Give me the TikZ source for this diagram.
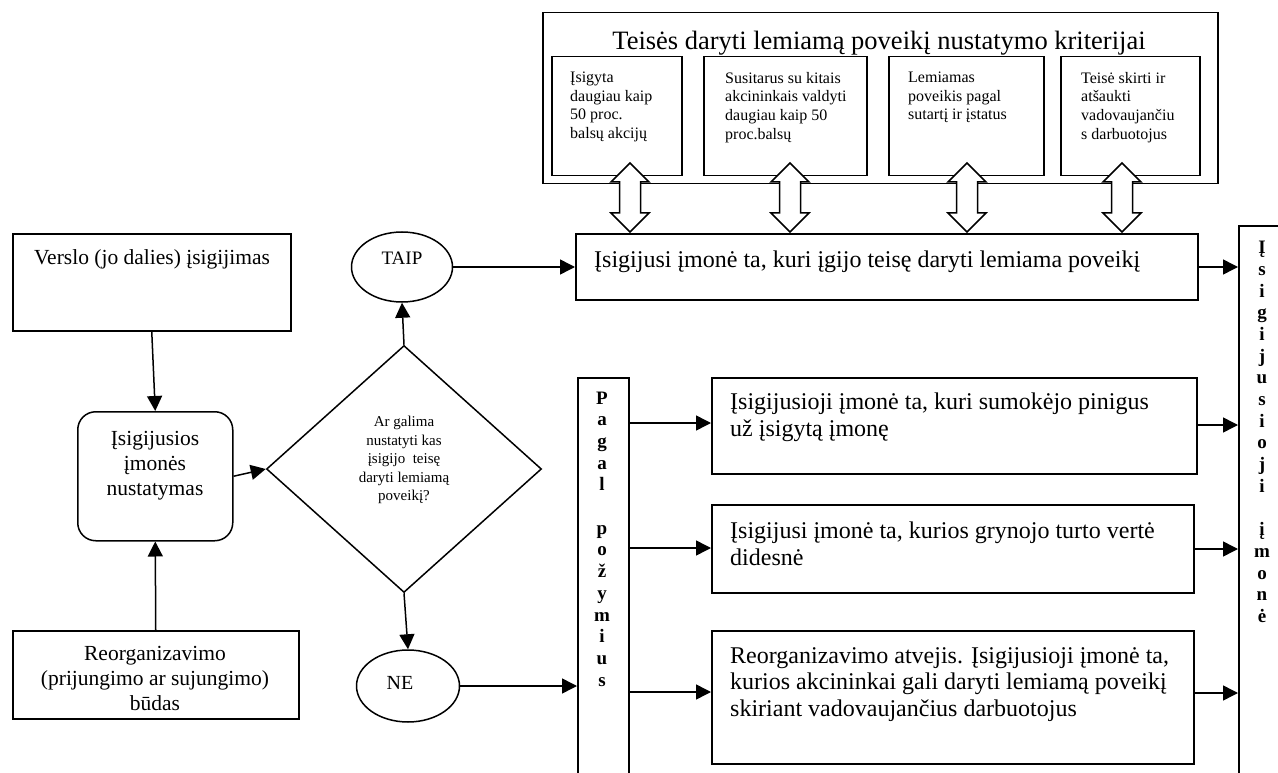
\documentclass[tikz,border=0pt]{standalone}
\usepackage{fontspec}
\setmainfont{Liberation Serif}
\usetikzlibrary{arrows.meta,shapes.geometric}
\newcommand\dblarr[1]{%
  \draw[line width=1.5pt,fill=white,line join=miter] (#1,163) -- ({#1+19},182) -- ({#1+10.5},182) -- ({#1+10.5},213) -- ({#1+19},213) -- (#1,232)
    -- ({#1-19},213) -- ({#1-10.5},213) -- ({#1-10.5},182) -- ({#1-19},182) -- cycle;}
\begin{document}
\begin{tikzpicture}[x=1pt,y=-1pt,
  box/.style={draw,line width=1.5pt,inner sep=0pt,anchor=north west},
  arr/.style={line width=1.5pt,-{Triangle[length=15pt,width=15pt]}},
  big/.style={font=\fontsize{24}{26.5}\selectfont,inner sep=0pt},
  left/.style={font=\fontsize{21.5}{25}\selectfont,inner sep=0pt},
  small/.style={font=\fontsize{16}{18.6}\selectfont,inner sep=0pt,align=left,anchor=north west},
  vert/.style={font=\bfseries\fontsize{19}{21.7}\selectfont,align=center,inner sep=0pt},
]
\useasboundingbox (0,0) rectangle (1278,773);
\clip (0,0) rectangle (1278,773);

% left column
\node[box,minimum width=278,minimum height=97] (verslo) at (12,233) {};
\node[left] (tverslo) at (152,259) {Verslo (jo dalies) įsigijimas};
\node[box,minimum width=155,minimum height=129,rounded corners=18pt] (det) at (77,411) {};
\node[left,align=center] (tdet) at (155,466) {Įsigijusios\\įmonės\\nustatymas};
\node[box,minimum width=286,minimum height=88] (reorg) at (12,630) {};
\node[left,align=center] (treorg) at (155,678) {Reorganizavimo\\(prijungimo ar sujungimo)\\būdas};

% decision
\node[draw,diamond,line width=1.5pt,minimum width=275,minimum height=247,inner sep=0pt] (dia) at (404,469) {};
\node[font=\fontsize{15}{18.6}\selectfont,align=center,inner sep=0pt] (tdia) at (404,460) {Ar galima\\nustatyti kas\\įsigijo~~teisę\\daryti lemiamą\\poveikį?};
\node[draw,ellipse,line width=1.5pt,minimum width=101,minimum height=70,inner sep=0pt] (taip) at (402,267) {};
\node[font=\fontsize{19}{20}\selectfont,inner sep=0pt] (ttaip) at (402,258) {TAIP};
\node[draw,ellipse,line width=1.5pt,minimum width=103,minimum height=72,inner sep=0pt] (ne) at (408,686) {};
\node[font=\fontsize{20}{20}\selectfont,inner sep=0pt] (tne) at (400,683) {NE};

% criteria block
\node[box,minimum width=675,minimum height=171] (crit) at (542,12) {};
\node[font=\fontsize{26.5}{28}\selectfont,inner sep=0pt] (tcrit) at (879,43) {Teisės daryti lemiamą poveikį nustatymo kriterijai};
\node[box,minimum width=130,minimum height=119] (c1) at (551,56) {};
\node[box,minimum width=163,minimum height=119] (c2) at (703,56) {};
\node[box,minimum width=155,minimum height=119] (c3) at (888,56) {};
\node[box,minimum width=139,minimum height=119] (c4) at (1060,56) {};
\node[small] (tc1) at (570,72) {Įsigyta\\daugiau kaip\\50 proc.\\balsų akcijų};
\node[small] (tc2) at (725,72) {Susitarus su kitais\\akcininkais valdyti\\daugiau kaip 50\\proc.balsų};
\node[small] (tc3) at (908,72) {Lemiamas\\poveikis pagal\\sutartį ir įstatus};
\node[small] (tc4) at (1081,72) {Teisė skirti ir\\atšaukti\\vadovaujančiu\\s darbuotojus};

% main yes box
\node[box,minimum width=622,minimum height=66] (main) at (575,233) {};
\node[big,anchor=west] (tmain) at (594,262) {Įsigijusi įmonė ta, kuri įgijo teisę daryti lemiama poveikį};
\dblarr{630}
\dblarr{790}
\dblarr{967}
\dblarr{1122}

% Pagal požymius column
\node[box,minimum width=51,minimum height=420] (pagal) at (577,377) {};
\node[vert] (tpagal) at (602,539) {P\\a\\g\\a\\l\\\mbox{}\\p\\o\\ž\\y\\m\\i\\u\\s};

\node[box,minimum width=485,minimum height=96] (ba) at (711,377) {};
\node[big,align=left,anchor=north west] (tba) at (730,393) {Įsigijusioji įmonė ta, kuri sumokėjo pinigus\\už įsigytą įmonę};
\node[box,minimum width=482,minimum height=88] (bb) at (711,504) {};
\node[big,align=left,anchor=north west] (tbb) at (730,522) {Įsigijusi įmonė ta, kurios grynojo turto vertė\\didesnė};
\node[box,minimum width=482,minimum height=133] (bc) at (711,630) {};
\node[big,align=left,anchor=north west] (tbc) at (730,647) {Reorganizavimo atvejis. Įsigijusioji įmonė ta,\\kurios akcininkai gali daryti lemiamą poveikį\\skiriant vadovaujančius darbuotojus};

% right column
\node[box,minimum width=60,minimum height=580] (res) at (1238,225) {};
\node[vert] (tres) at (1262,432) {Į\\s\\i\\g\\i\\j\\u\\s\\i\\o\\j\\i\\\mbox{}\\į\\m\\o\\n\\ė};

% connectors
\draw[arr] (verslo.south) -- (det.north);
\draw[arr] (reorg.north) -- (det.south);
\draw[arr] (det.east) -- (dia.west);
\draw[arr] (dia.north) -- (taip.south);
\draw[arr] (dia.south) -- (ne.north);
\draw[arr] (taip.east) -- (main.west |- taip.east);
\draw[arr] (ne.east) -- (pagal.west |- ne.east);
\draw[arr] (pagal.east |- 0,423) -- (ba.west |- 0,423);
\draw[arr] (pagal.east |- 0,548) -- (bb.west |- 0,548);
\draw[arr] (pagal.east |- 0,692) -- (bc.west |- 0,692);
\draw[arr] (main.east |- 0,267) -- (res.west |- 0,267);
\draw[arr] (ba.east |- 0,425) -- (res.west |- 0,425);
\draw[arr] (bb.east |- 0,549) -- (res.west |- 0,549);
\draw[arr] (bc.east |- 0,693) -- (res.west |- 0,693);
\end{tikzpicture}
\end{document}
